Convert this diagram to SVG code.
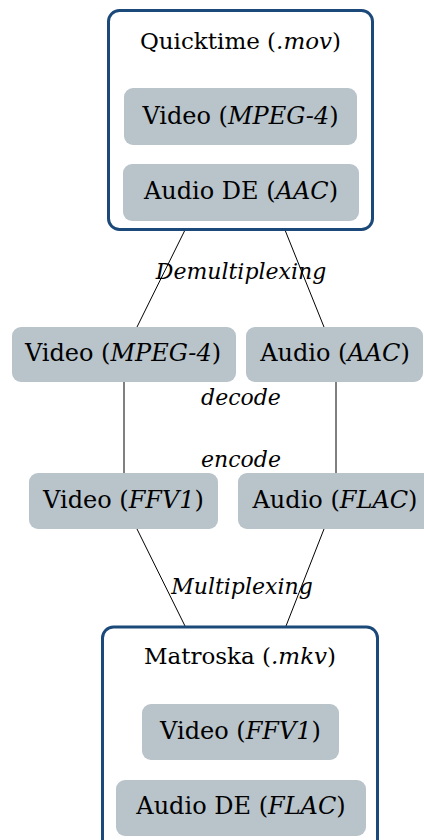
<svg xmlns="http://www.w3.org/2000/svg" width="424" height="840" viewBox="0 0 424 840">
<style>
.container{fill:#ffffff;stroke:#1b4a7a;stroke-width:3}
.box{fill:#b8c3ca;stroke:none}
text{font-family:"DejaVu Serif","Liberation Serif",serif;font-size:24px;fill:#000;text-anchor:middle}
.title{font-size:23px}
.lbl{font-size:22px;font-style:italic}
.it{font-style:italic}
.edge{stroke:#000;stroke-width:1;fill:none}
</style>
<rect width="424" height="840" fill="#ffffff"/>
<g id="connectors">
<line class="edge" x1="185" y1="230" x2="137" y2="327"/>
<line class="edge" x1="285" y1="230" x2="324" y2="327"/>
<line class="edge" x1="124" y1="382" x2="124" y2="473"/>
<line class="edge" x1="336" y1="382" x2="336" y2="473"/>
<line class="edge" x1="137" y1="529" x2="185" y2="626"/>
<line class="edge" x1="324" y1="529" x2="286" y2="626"/>
<text class="lbl" x="241" y="279">Demultiplexing</text>
<text class="lbl" x="241" y="405">decode</text>
<text class="lbl" x="241" y="467">encode</text>
<text class="lbl" x="242" y="594">Multiplexing</text>
</g>
<g id="quicktime">
<rect class="container" x="108.5" y="10.5" width="264" height="219" rx="11"/>
<text class="title" x="240.5" y="49">Quicktime (<tspan class="it">.mov</tspan>)</text>
</g>
<g id="qt-video">
<rect class="box" x="124" y="88" width="233" height="57" rx="9"/>
<text x="240.5" y="124">Video (<tspan class="it">MPEG-4</tspan>)</text>
</g>
<g id="qt-audio">
<rect class="box" x="123" y="164" width="236" height="57" rx="9"/>
<text x="241" y="199">Audio DE (<tspan class="it">AAC</tspan>)</text>
</g>
<g id="video-mpeg4">
<rect class="box" x="12" y="327" width="224" height="55" rx="9"/>
<text x="123" y="361">Video (<tspan class="it">MPEG-4</tspan>)</text>
</g>
<g id="audio-aac">
<rect class="box" x="246" y="327" width="177" height="55" rx="9"/>
<text x="335" y="361">Audio (<tspan class="it">AAC</tspan>)</text>
</g>
<g id="video-ffv1">
<rect class="box" x="29" y="473" width="189" height="56" rx="9"/>
<text x="123.5" y="508">Video (<tspan class="it">FFV1</tspan>)</text>
</g>
<g id="audio-flac">
<rect class="box" x="238" y="473" width="196" height="56" rx="9"/>
<text x="335" y="508">Audio (<tspan class="it">FLAC</tspan>)</text>
</g>
<g id="matroska">
<rect class="container" x="102.5" y="627" width="275" height="230" rx="11"/>
<text class="title" x="240" y="664">Matroska (<tspan class="it">.mkv</tspan>)</text>
</g>
<g id="mkv-video">
<rect class="box" x="142" y="704" width="197" height="56" rx="9"/>
<text x="240.5" y="739">Video (<tspan class="it">FFV1</tspan>)</text>
</g>
<g id="mkv-audio">
<rect class="box" x="116" y="780" width="250" height="56" rx="9"/>
<text x="241" y="814">Audio DE (<tspan class="it">FLAC</tspan>)</text>
</g>
</svg>
